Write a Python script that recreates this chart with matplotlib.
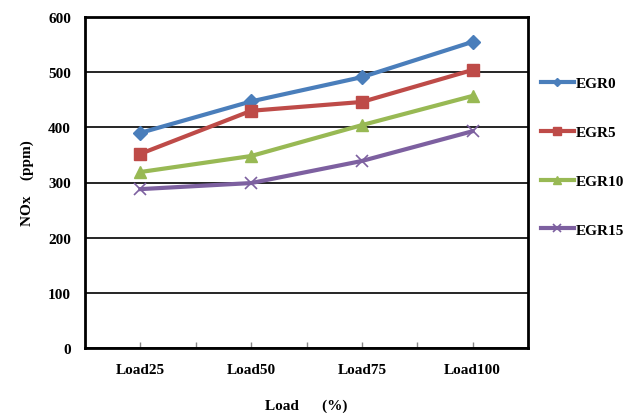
import matplotlib
matplotlib.use("Agg")
import matplotlib.pyplot as plt
import numpy as np

categories = ["Load25", "Load50", "Load75", "Load100"]
egr0 = [390, 447, 491, 555]
egr5 = [352, 430, 446, 504]
egr10 = [319, 348, 404, 457]
egr15 = [288, 299, 339, 393]
series_names = ["EGR0", "EGR5", "EGR10", "EGR15"]
yticks = [0, 100, 200, 300, 400, 500, 600]

plt.rcParams['font.family'] = ['Liberation Serif', 'DejaVu Serif']
plt.rcParams['font.weight'] = 'bold'

fig = plt.figure(figsize=(6.32, 4.14), dpi=100)
ax = fig.add_axes([85/632, 1-349/414, (528-85)/632, (349-18)/414])

x = np.arange(len(categories))
styles = [("#4A7EBB", "D", 7), ("#BE4B48", "s", 8), ("#98B954", "^", 8), ("#7D60A0", "x", 9)]
handles = []
for vals, name, (c, m, ms) in zip([egr0, egr5, egr10, egr15], series_names, styles):
    h, = ax.plot(x, vals, color=c, marker=m, markersize=ms, linewidth=3, label=name,
                 markeredgewidth=1.2 if m == "x" else 1, zorder=3)
    handles.append(h)

ax.set_xlim(-0.5, len(categories) - 0.5)
ax.set_ylim(0, 600)
ax.set_yticks(yticks)
ax.set_yticklabels([str(v) for v in yticks], fontsize=11, fontweight='bold')
ax.set_xticks(x)
ax.set_xticklabels(categories, fontsize=11, fontweight='bold')
ax.set_xticks(np.arange(0.5, len(categories) - 1, 1), minor=True)
ax.tick_params(axis='x', which='both', direction='in', length=4, width=1, color='#888888', pad=11)
ax.tick_params(axis='y', length=0, pad=10)
ax.yaxis.grid(True, color='black', linewidth=1.2)
ax.set_axisbelow(True)
for s in ax.spines.values():
    s.set_linewidth(2)
    s.set_color('black')

ax.set_ylabel("NOx    (ppm)", fontsize=11, fontweight='bold', labelpad=10)
ax.set_xlabel("Load      (%)", fontsize=11, fontweight='bold', labelpad=16)

fig.legend(handles=handles, labels=series_names, loc='upper left',
           bbox_to_anchor=(533/632, 1-70/414), frameon=False, borderpad=0,
           labelspacing=2.3, handlelength=2.2, handletextpad=0.1, markerscale=0.65,
           prop={'family': 'Liberation Serif', 'weight': 'bold', 'size': 11})

fig.savefig("out.png", dpi=100, facecolor='white')
